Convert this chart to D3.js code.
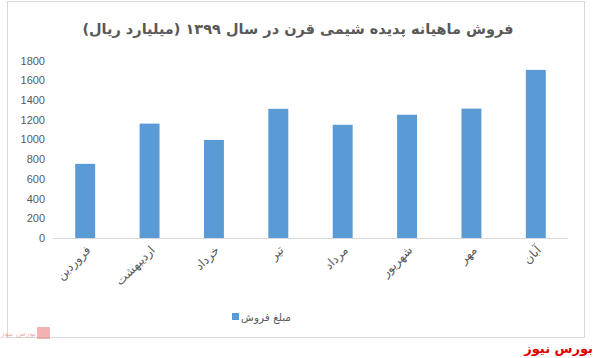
<!DOCTYPE html>
<html><head><meta charset="utf-8">
<script src="https://cdn.jsdelivr.net/npm/d3@7"></script>
<style>body{margin:0;background:#fff}svg{display:block}</style>
</head><body>
<script>
const categories = ["فروردین","اردیبهشت","خرداد","تیر","مرداد","شهریور","مهر","آبان"];
const salesValues = [752, 1160, 995, 1310, 1148, 1250, 1312, 1705];
const yTicks = [0,200,400,600,800,1000,1200,1400,1600,1800];
const titleText = "فروش ماهیانه پدیده شیمی قرن در سال ۱۳۹۹ (میلیارد ریال)";
const seriesName = "مبلغ فروش";

const W = 596, H = 358;
const svg = d3.select("body").append("svg").attr("width", W).attr("height", H);
const arFont = "'DejaVu Sans', 'Noto Sans', sans-serif";

// frame
svg.append("rect").attr("x", 7.5).attr("y", 1.5).attr("width", 577).attr("height", 336)
  .attr("fill", "#fff").attr("stroke", "#d9d9d9");

svg.append("text").attr("x", 298).attr("y", 34).attr("text-anchor", "middle")
  .attr("font-family", arFont).attr("font-size", 14.5).attr("font-weight", "bold")
  .attr("fill", "#595959").text(titleText);

const x = d3.scaleBand().domain(categories).range([53, 568]).paddingInner(0.69).paddingOuter(0.345);
const y = d3.scaleLinear().domain([0, 1800]).range([238, 60.5]);

// bars
svg.selectAll("rect.bar").data(categories).enter().append("rect").attr("class", "bar")
  .attr("x", d => x(d)).attr("width", x.bandwidth())
  .attr("y", (d, i) => y(salesValues[i])).attr("height", (d, i) => y(0) - y(salesValues[i]))
  .attr("fill", "#5b9bd5");

// y axis labels
const yAxis = d3.axisLeft(y).tickValues(yTicks).tickFormat(d3.format("d")).tickSize(0).tickPadding(0);
const gy = svg.append("g").attr("transform", "translate(45,0)").call(yAxis);
gy.select(".domain").remove();
gy.selectAll("text").attr("font-family", "'Liberation Sans', Arial, sans-serif").attr("font-size", 11).attr("fill", "#595959");

// x axis
const xAxis = d3.axisBottom(x).tickSize(0).tickPadding(0);
const gx = svg.append("g").attr("transform", `translate(0,${y(0)})`).call(xAxis);
gx.select(".domain").attr("stroke", "#d9d9d9").attr("d", "M53,0.5H568");
gx.selectAll(".tick text")
  .attr("font-family", arFont).attr("font-size", 12).attr("fill", "#595959")
  .attr("text-anchor", "end").attr("dy", null).attr("y", 0)
  .attr("transform", "translate(6,13) rotate(-45)");

// legend
svg.append("rect").attr("x", 232).attr("y", 313).attr("width", 7).attr("height", 7).attr("fill", "#5b9bd5");
svg.append("text").attr("x", 291).attr("y", 321).attr("text-anchor", "end")
  .attr("font-family", arFont).attr("font-size", 10.5).attr("fill", "#595959").text(seriesName);

// watermark
const wm = svg.append("g").attr("opacity", 0.6);
wm.append("rect").attr("x", 37).attr("y", 327).attr("width", 13).attr("height", 12).attr("fill", "#e88080");
wm.append("text").attr("x", 36).attr("y", 336).attr("text-anchor", "end")
  .attr("font-family", arFont).attr("font-size", 8).attr("fill", "#e88080").text("بورس نیوز");

svg.append("text").attr("x", 593).attr("y", 353).attr("text-anchor", "end")
  .attr("font-family", arFont).attr("font-size", 13).attr("font-weight", "bold")
  .attr("fill", "#e00000").text("بورس نیوز");
</script>
</body></html>
